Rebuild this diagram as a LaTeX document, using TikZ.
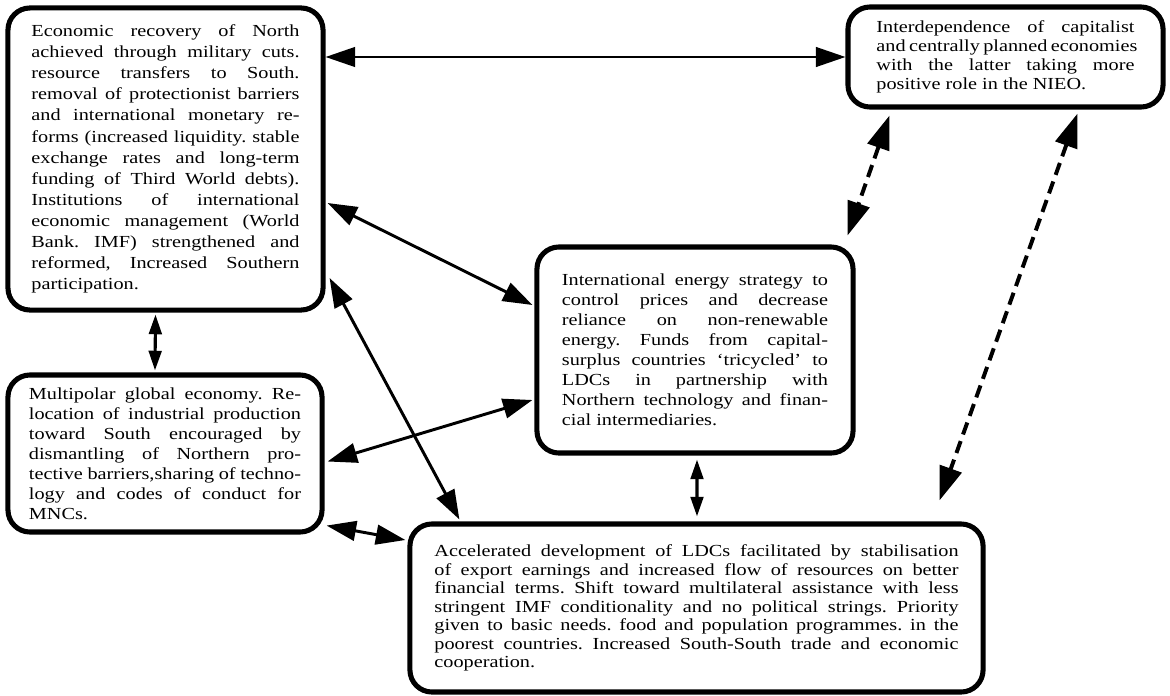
\documentclass[tikz,border=0pt]{standalone}
\usepackage{fontspec}
\setmainfont{Liberation Serif}[FakeStretch=1.2]
\usetikzlibrary{arrows.meta, calc}

% one justified line of a box text
\newcommand{\jline}[1]{\makebox[\hsize][s]{#1}\par}

\tikzset{
    % Base Block Style
    block/.style={
        rectangle,
        rounded corners=0.55cm,
        draw=black,
        line width=3.6pt,
        fill=white,
        inner sep=0pt,
        align=justify,
        font=\fontsize{12}{15}\selectfont,
        execute at begin node={\setlength{\parindent}{0pt}\spaceskip=0pt\relax\frenchspacing}
    },
    % Arrow Styles
    biarrow/.style={{Triangle[length=21pt, width=14pt]}-{Triangle[length=21pt, width=14pt]}, line width=2.1pt},
    thinarrow/.style={biarrow, line width=1.5pt},
    shortarrow/.style={{Triangle[length=14pt, width=9pt]}-{Triangle[length=14pt, width=9pt]}, line width=2.2pt},
    dasharrow/.style={{Triangle[length=24pt, width=16pt]}-{Triangle[length=24pt, width=16pt]}, line width=2.8pt, dash pattern=on 9pt off 5pt}
}

\begin{document}
\begin{tikzpicture}[x=0.025cm, y=-0.025cm]

    \useasboundingbox (0,0) rectangle (1170,696);

    % --- BOXES ---

    % Northern recovery (top left)
    \node (econ) [block, minimum width=7.875cm, minimum height=7.55cm, text width=6.7cm] at (165.5,159) {
        \jline{Economic recovery of North}
        \jline{achieved through military cuts.}
        \jline{resource transfers to South.}
        \jline{removal of protectionist barriers}
        \jline{and international monetary re-}
        \jline{forms (increased liquidity. stable}
        \jline{exchange rates and long-term}
        \jline{funding of Third World debts).}
        \jline{Institutions of international}
        \jline{economic management (World}
        \jline{Bank. IMF) strengthened and}
        \jline{reformed, Increased Southern}
        participation.
    };

    % East-West interdependence (top right)
    \node (inter) [block, minimum width=7.875cm, minimum height=2.5cm, text width=6.45cm,
        font=\fontsize{12}{13.6}\selectfont] at (1005.5,57) {
        \jline{Interdependence of capitalist}
        \jline{and centrally planned economies}
        \jline{with the latter taking more}
        positive role in the NIEO.
    };

    % Energy strategy (middle)
    \node (energy) [block, minimum width=7.9cm, minimum height=5.15cm, text width=6.65cm,
        font=\fontsize{12}{14.2}\selectfont] at (695,350) {
        \jline{International energy strategy to}
        \jline{control prices and decrease}
        \jline{reliance on non-renewable}
        \jline{energy. Funds from capital-}
        \jline{surplus countries `tricycled' to}
        \jline{LDCs in partnership with}
        \jline{Northern technology and finan-}
        cial intermediaries.
    };

    % Multipolar economy (middle left)
    \node (multi) [block, minimum width=7.85cm, minimum height=3.925cm, text width=6.8cm,
        font=\fontsize{12}{14.2}\selectfont] at (165,453.5) {
        \jline{Multipolar global economy. Re-}
        \jline{location of industrial production}
        \jline{toward South encouraged by}
        \jline{dismantling of Northern pro-}
        \jline{tective barriers,sharing of techno-}
        \jline{logy and codes of conduct for}
        MNCs.
    };

    % LDC development (bottom)
    \node (ldc) [block, minimum width=14.325cm, minimum height=4.2cm, text width=13.1cm,
        font=\fontsize{12}{13.2}\selectfont] at (696.5,608) {
        \jline{Accelerated development of LDCs facilitated by stabilisation}
        \jline{of export earnings and increased flow of resources on better}
        \jline{financial terms. Shift toward multilateral assistance with less}
        \jline{stringent IMF conditionality and no political strings. Priority}
        \jline{given to basic needs. food and population programmes. in the}
        \jline{poorest countries. Increased South-South trade and economic}
        cooperation.
    };

    % --- ARROWS ---
    \draw [thinarrow] (inter.west) -- (inter.west -| econ.east);
    \draw [biarrow] ($(econ.east)+(2,44)$) -- ($(energy.west)+(-2,-45)$);
    \draw [biarrow] ($(econ.east)+(4,119)$) -- ($(ldc.north west)+(52,-2)$);
    \draw [shortarrow] ($(econ.south)+(-10,2)$) -- ($(multi.north)+(-10,-2)$);
    \draw [biarrow] ($(multi.east)+(3,8)$) -- ($(energy.west)+(-2,50)$);
    \draw [biarrow] ($(multi.south east)+(2,-9)$) -- ($(ldc.west)+(-2,-68)$);
    \draw [shortarrow] ($(energy.south)+(2,4)$) -- ($(ldc.north)+(0.5,-5)$);

    % dashed links to the top right box
    \draw [dasharrow] ($(inter.south west)+(44,6)$) -- ($(energy.north east)+(-8,-9)$);
    \draw [dasharrow] ($(inter.south)+(72,4)$) -- ($(ldc.north)+(243,-21)$);

\end{tikzpicture}
\end{document}
